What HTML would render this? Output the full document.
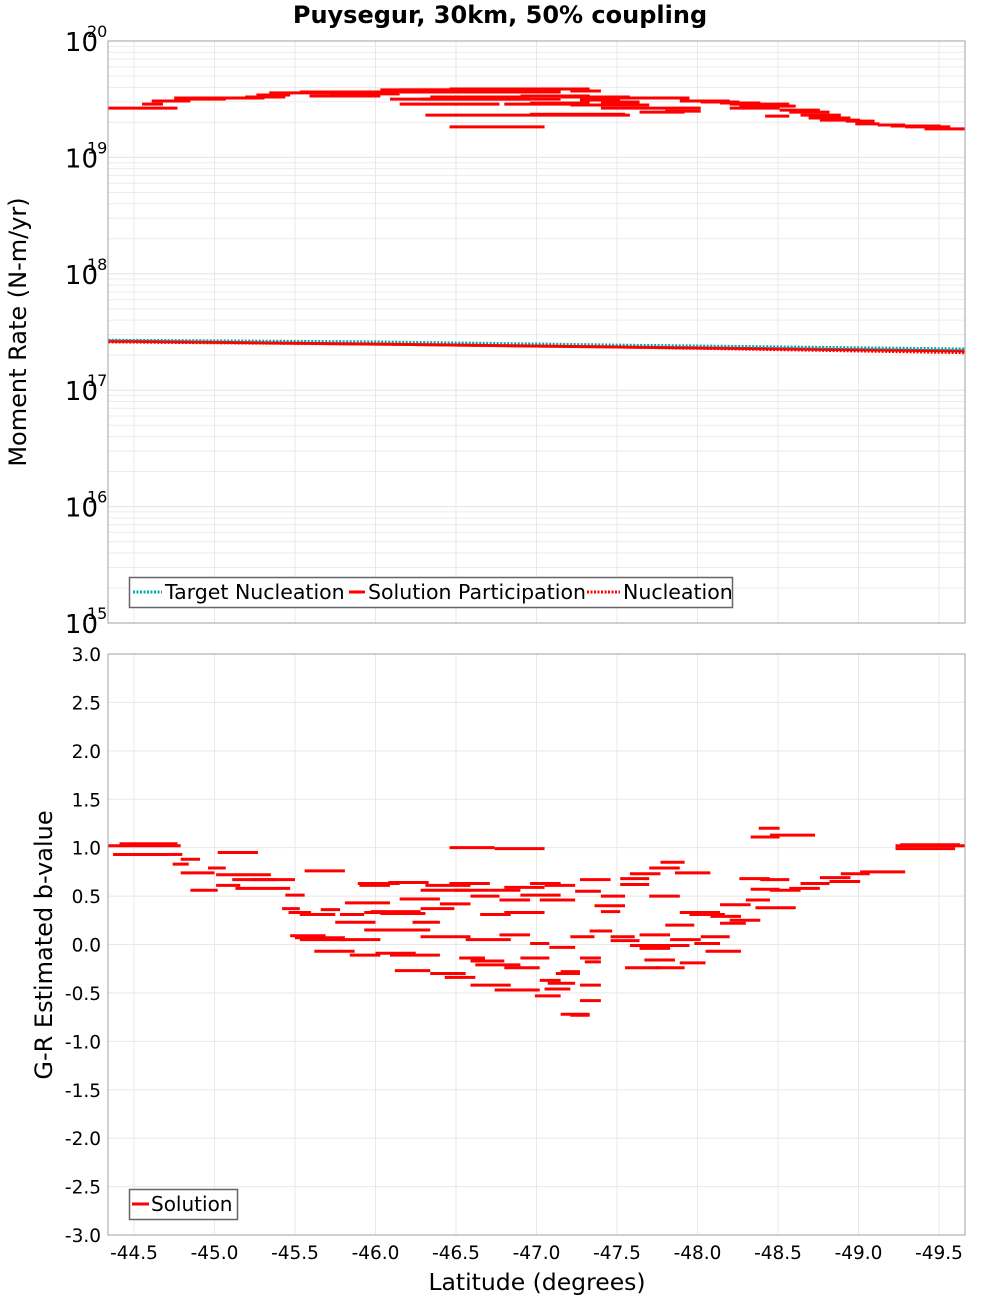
<!DOCTYPE html>
<html><head><meta charset="utf-8"><title>Puysegur, 30km, 50% coupling</title>
<style>
html,body{margin:0;padding:0;background:#fff;}
svg{display:block;font-family:"DejaVu Sans","Liberation Sans",sans-serif;}
</style></head>
<body>
<svg id="chart" width="1000" height="1300" xmlns="http://www.w3.org/2000/svg"></svg>
<script>
// ---- Data ----
const xTicks = [-44.5,-45.0,-45.5,-46.0,-46.5,-47.0,-47.5,-48.0,-48.5,-49.0,-49.5];
const xTickLabels = ["-44.5","-45.0","-45.5","-46.0","-46.5","-47.0","-47.5","-48.0","-48.5","-49.0","-49.5"];
const topExponents = [20,19,18,17,16,15];
const bTicks = [3.0,2.5,2.0,1.5,1.0,0.5,0.0,-0.5,-1.0,-1.5,-2.0,-2.5,-3.0];
const bTickLabels = ["3.0","2.5","2.0","1.5","1.0","0.5","0.0","-0.5","-1.0","-1.5","-2.0","-2.5","-3.0"];

// Solution participation segments: [latStart, latEnd, rate (x1e19 N-m/yr)]
const participationSegments = [
[-44.34,-44.77,2.65],[-44.55,-44.68,2.87],[-44.61,-44.85,3.05],[-44.75,-45.07,3.17],[-44.75,-45.31,3.24],
[-45.19,-45.44,3.3],[-45.26,-45.47,3.44],[-45.34,-45.84,3.58],[-45.53,-46.15,3.65],[-45.59,-46.03,3.37],
[-45.72,-46.15,3.51],[-46.03,-46.59,3.8],[-46.15,-46.77,3.8],[-46.46,-47.15,3.87],[-46.77,-47.33,3.87],
[-46.15,-47.15,3.65],[-46.34,-46.9,3.3],[-46.09,-46.96,3.17],[-46.28,-47.15,3.17],[-46.9,-47.33,3.37],
[-47.15,-47.58,3.3],[-47.21,-47.4,3.72],[-47.27,-47.52,3.11],[-47.4,-47.64,2.99],[-46.96,-47.33,2.93],
[-46.15,-46.77,2.87],[-46.8,-47.21,2.87],[-47.21,-47.7,2.82],[-47.52,-47.95,3.24],[-47.89,-48.2,3.05],
[-48.02,-48.26,2.99],[-48.14,-48.39,2.93],[-48.2,-48.57,2.87],[-47.4,-48.02,2.65],[-48.2,-48.51,2.65],
[-48.26,-48.61,2.76],[-48.51,-48.76,2.55],[-48.57,-48.82,2.45],[-48.64,-48.89,2.31],[-48.69,-48.95,2.18],
[-48.76,-49.01,2.09],[-48.92,-49.1,2.05],[-48.98,-49.13,1.94],[-49.12,-49.29,1.9],[-49.2,-49.51,1.86],
[-49.29,-49.57,1.83],[-49.41,-49.66,1.76],[-48.42,-48.57,2.26],[-47.64,-47.92,2.45],[-47.8,-48.02,2.5],
[-46.31,-47.58,2.31],[-46.46,-47.05,1.83],[-46.96,-47.55,2.35]
];

// Line series (x1e17 N-m/yr)
const lineLats = [-44.34,-46.0,-47.5,-49.66];
const targetNucleation = [2.69,2.60,2.44,2.26];
const solutionNucleation = [2.60,2.49,2.35,2.10];
const solutionParticipationLow = [2.64,2.49,2.35,2.17];

// b-value segments: [latStart, latEnd, b]
const bSegments = [
[-44.34,-44.79,1.02],[-44.41,-44.77,1.04],[-44.37,-44.72,0.93],[-44.72,-44.8,0.93],[-44.79,-44.91,0.88],
[-44.74,-44.84,0.83],[-44.79,-45.0,0.74],[-44.96,-45.07,0.79],[-45.02,-45.27,0.95],[-44.85,-45.02,0.56],
[-45.01,-45.16,0.61],[-45.01,-45.35,0.72],[-45.13,-45.47,0.58],[-45.11,-45.39,0.67],[-45.22,-45.5,0.67],
[-45.44,-45.56,0.51],[-45.46,-45.6,0.33],[-45.53,-45.75,0.31],[-45.56,-45.81,0.76],[-45.42,-45.53,0.37],
[-45.47,-45.69,0.09],[-45.5,-45.81,0.07],[-45.53,-45.81,0.05],[-45.62,-45.87,-0.07],[-45.66,-45.78,0.36],
[-45.78,-45.93,0.31],[-45.81,-46.09,0.43],[-45.78,-46.03,0.05],[-45.75,-46.0,0.23],[-45.9,-46.09,0.61],
[-45.89,-46.15,0.63],[-46.08,-46.33,0.64],[-45.93,-46.21,0.33],[-45.97,-46.28,0.34],[-46.03,-46.31,0.32],
[-45.84,-46.03,-0.11],[-46.0,-46.25,-0.09],[-46.09,-46.4,-0.11],[-45.93,-46.15,0.15],[-46.06,-46.34,0.15],
[-46.23,-46.4,0.23],[-46.28,-46.49,0.37],[-46.15,-46.4,0.47],[-46.12,-46.34,-0.27],[-46.34,-46.56,-0.3],
[-46.43,-46.62,-0.34],[-46.28,-46.59,0.08],[-46.31,-46.59,0.61],[-46.28,-46.59,0.56],[-46.46,-46.71,0.63],
[-46.52,-46.68,-0.14],[-46.49,-46.71,0.56],[-46.4,-46.59,0.42],[-46.46,-46.74,1.0],[-46.74,-47.05,0.99],
[-46.59,-46.8,-0.17],[-46.62,-46.9,-0.21],[-46.8,-47.02,-0.24],[-46.59,-46.84,-0.42],[-46.74,-47.02,-0.47],
[-46.56,-46.84,0.05],[-46.77,-46.96,0.10],[-46.71,-46.9,0.56],[-46.65,-46.84,0.31],[-46.59,-46.77,0.5],
[-46.8,-47.05,0.33],[-46.77,-46.96,0.46],[-46.8,-47.05,0.59],[-46.9,-47.15,0.51],[-46.96,-47.15,0.63],
[-47.02,-47.24,0.46],[-47.05,-47.24,0.61],[-46.96,-47.08,0.01],[-46.9,-47.08,-0.14],[-47.08,-47.24,-0.03],
[-46.99,-47.15,-0.53],[-47.02,-47.15,-0.37],[-47.07,-47.24,-0.4],[-47.05,-47.21,-0.46],[-47.15,-47.27,-0.28],
[-47.12,-47.27,-0.3],[-47.15,-47.33,-0.72],[-47.21,-47.33,-0.73],[-47.21,-47.36,0.08],[-47.27,-47.4,-0.14],
[-47.33,-47.47,0.14],[-47.27,-47.4,-0.42],[-47.27,-47.4,-0.58],[-47.3,-47.4,-0.18],[-47.24,-47.4,0.55],
[-47.27,-47.46,0.67],[-47.36,-47.55,0.4],[-47.4,-47.52,0.34],[-47.4,-47.55,0.5],[-47.46,-47.61,0.08],
[-47.46,-47.64,0.04],[-47.52,-47.7,0.68],[-47.52,-47.7,0.62],[-47.58,-47.77,0.73],[-47.55,-47.77,-0.24],
[-47.58,-47.77,-0.01],[-47.64,-47.83,0.1],[-47.64,-47.83,-0.04],[-47.67,-47.86,-0.16],[-47.7,-47.89,0.79],
[-47.7,-47.89,0.5],[-47.77,-47.92,0.85],[-47.74,-47.92,-0.24],[-47.77,-47.95,-0.01],[-47.83,-48.02,0.05],
[-47.86,-48.08,0.74],[-47.89,-48.05,-0.19],[-47.8,-47.98,0.2],[-47.89,-48.14,0.33],[-47.95,-48.17,0.31],
[-47.98,-48.14,0.01],[-48.02,-48.2,0.08],[-48.05,-48.27,-0.07],[-48.08,-48.27,0.29],[-48.14,-48.33,0.41],
[-48.2,-48.39,0.25],[-48.14,-48.3,0.22],[-48.3,-48.45,0.46],[-48.33,-48.51,0.57],[-48.26,-48.45,0.68],
[-48.36,-48.61,0.38],[-48.39,-48.57,0.67],[-48.45,-48.64,0.56],[-48.57,-48.76,0.58],[-48.64,-48.82,0.63],
[-48.76,-48.95,0.69],[-48.82,-49.01,0.65],[-48.89,-49.07,0.73],[-49.01,-49.29,0.75],[-48.33,-48.51,1.11],
[-48.38,-48.51,1.2],[-48.45,-48.73,1.13],[-49.23,-49.66,1.02],[-49.23,-49.6,0.99],[-49.26,-49.63,1.03]
];

// ---- Layout & scales ----
const NS = "http://www.w3.org/2000/svg";
const svg = document.getElementById('chart');
const PL = 108, PR = 965;
const T1 = 41, B1 = 623, T2 = 654, B2 = 1235;
const LAT_L = -44.5 - (PL-134)/161, LAT_R = -44.5 - (PR-134)/161;
function xS(lat){ return PL + (lat - LAT_L)/(LAT_R - LAT_L)*(PR-PL); }
function yLog(v){ const l = Math.log10(v); return T1 + (20 - l)/5*(B1-T1); }
function yB(b){ return T2 + (3 - b)/6*(B2-T2); }

function mk(tag, attrs, parent){
  const el = document.createElementNS(NS, tag);
  for (const k in attrs) el.setAttribute(k, attrs[k]);
  (parent||svg).appendChild(el);
  return el;
}

// Title
const title = mk('text',{x:500,y:23,'text-anchor':'middle','font-size':24,'font-weight':'bold',fill:'#000'});


title.textContent = 'Puysegur, 30km, 50% coupling';

// ---- Top panel ----
const gTop = mk('g',{});


mk('rect',{x:PL,y:T1,width:PR-PL,height:B1-T1,fill:'#fff'},gTop);
const gridTop = mk('g',{},gTop);


for (let e=15; e<20; e++){
  for (let m=1; m<10; m++){
    const y = yLog(m*Math.pow(10,e));
    mk('line',{x1:PL,x2:PR,y1:y,y2:y,stroke:m===1?'#e3e3e3':'#ececec','stroke-width':1},gridTop);
  }
}
xTicks.forEach(t=>{ const x=xS(t); mk('line',{x1:x,x2:x,y1:T1,y2:B1,stroke:'#e8e8e8'},gridTop); });

function drawLine(vals, color, dash, width, name){
  let d='';
  lineLats.forEach((lat,i)=>{ d += (i?'L':'M') + xS(lat).toFixed(1)+','+yLog(vals[i]*1e17).toFixed(1); });
  const p = mk('path',{d:d,fill:'none',stroke:color,'stroke-width':width,'stroke-dasharray':dash},gTop);
  
  
}
drawLine(solutionParticipationLow,'#ff0000','none',3,'solution-participation-line');
drawLine(targetNucleation,'#00aaaa','2,1.5',3,'target-nucleation-line');
drawLine(solutionNucleation,'#ff0000','2,1.5',3,'nucleation-line');

const gPart = mk('g',{},gTop);


participationSegments.forEach(s=>{
  const y = yLog(s[2]*1e19);
  const l = mk('line',{x1:xS(s[0]),x2:xS(s[1]),y1:y,y2:y,stroke:'#ff0000','stroke-width':3},gPart);
  
  
});
mk('rect',{x:PL,y:T1,width:PR-PL,height:B1-T1,fill:'none',stroke:'#a0a0a0','stroke-width':1},gTop);

topExponents.forEach(e=>{
  const y = yLog(Math.pow(10,e));
  const g = mk('g',{},gTop);
  
  
  const t = mk('text',{x:98,y:y+10,'text-anchor':'end','font-size':26,fill:'#000'},g);
  t.textContent='10';
  const s = mk('text',{x:87,y:y-4,'font-size':16,fill:'#000'},g);
  s.textContent=String(e);
});
const yt1 = mk('text',{x:0,y:0,'text-anchor':'middle','font-size':24,fill:'#000',transform:'translate(26,332) rotate(-90)'});


yt1.textContent='Moment Rate (N-m/yr)';

// top legend
const lg1 = mk('g',{});


mk('rect',{x:129.5,y:577.5,width:603,height:30,fill:'#fff',stroke:'#666','stroke-width':1.5},lg1);
[[133,162,'#00aaaa','2,1.5','Target Nucleation',165,'legend-target-nucleation'],
 [349,365,'#ff0000','none','Solution Participation',368,'legend-solution-participation'],
 [587,620,'#ff0000','2,1.5','Nucleation',623,'legend-nucleation']].forEach(L=>{
  const g = mk('g',{},lg1);
  
  
  mk('line',{x1:L[0],x2:L[1],y1:592,y2:592,stroke:L[2],'stroke-width':3,'stroke-dasharray':L[3]},g);
  const t = mk('text',{x:L[5],y:599,'font-size':20.5,fill:'#000'},g);
  t.textContent=L[4];
});

// ---- Bottom panel ----
const gBot = mk('g',{});


const gridBot = mk('g',{},gBot);


bTicks.forEach(b=>{ const y=yB(b); mk('line',{x1:PL,x2:PR,y1:y,y2:y,stroke:'#e8e8e8'},gridBot); });
xTicks.forEach(t=>{ const x=xS(t); mk('line',{x1:x,x2:x,y1:T2,y2:B2,stroke:'#e8e8e8'},gridBot); });
const gB = mk('g',{},gBot);


bSegments.forEach(s=>{
  const y = yB(s[2]);
  const l = mk('line',{x1:xS(s[0]),x2:xS(s[1]),y1:y,y2:y,stroke:'#ff0000','stroke-width':3},gB);
  
  
});
mk('rect',{x:PL,y:T2,width:PR-PL,height:B2-T2,fill:'none',stroke:'#a0a0a0','stroke-width':1},gBot);
bTicks.forEach((b,i)=>{
  const t = mk('text',{x:101,y:yB(b)+7,'text-anchor':'end','font-size':18.5,fill:'#000'},gBot);
  
  
  t.textContent=bTickLabels[i];
});
xTicks.forEach((t,i)=>{
  const tx = mk('text',{x:xS(t),y:1259,'text-anchor':'middle','font-size':18.5,fill:'#000'},gBot);
  
  
  tx.textContent=xTickLabels[i];
});
const yt2 = mk('text',{x:0,y:0,'text-anchor':'middle','font-size':24,fill:'#000',transform:'translate(52,945) rotate(-90)'});


yt2.textContent='G-R Estimated b-value';
const xt = mk('text',{x:537,y:1290,'text-anchor':'middle','font-size':23.5,fill:'#000'});


xt.textContent='Latitude (degrees)';

// bottom legend
const lg2 = mk('g',{});


mk('rect',{x:129.5,y:1189.5,width:108,height:30,fill:'#fff',stroke:'#666','stroke-width':1.5},lg2);
mk('line',{x1:132,x2:149,y1:1204,y2:1204,stroke:'#ff0000','stroke-width':3},lg2);
const lt = mk('text',{x:151,y:1211,'font-size':20,fill:'#000'},lg2);


lt.textContent='Solution';
</script>
</body></html>
